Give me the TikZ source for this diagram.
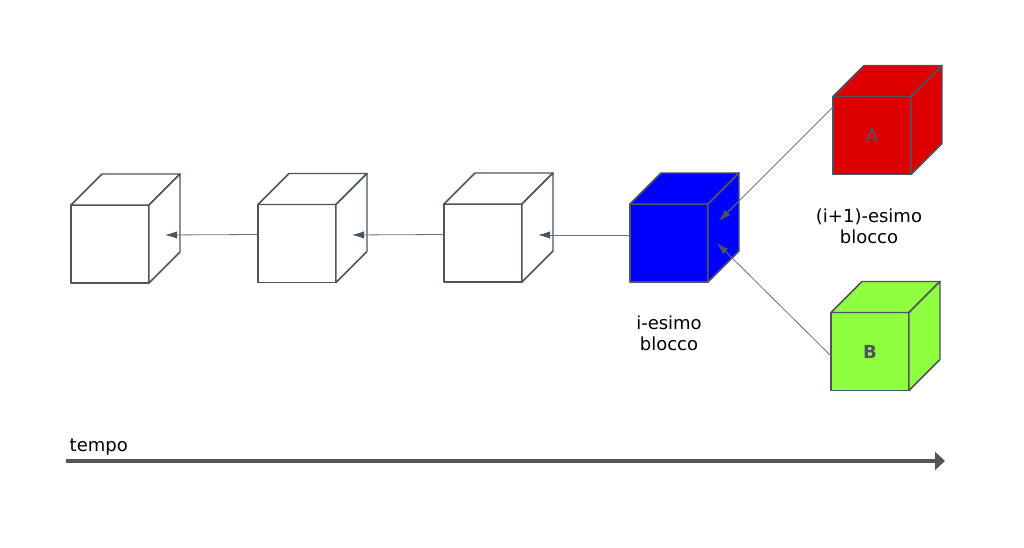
\documentclass[tikz,border=0pt]{standalone}
\usepackage{fontspec}
\setmainfont{DejaVu Sans}
\usetikzlibrary{arrows.meta,calc}
\definecolor{bordo}{HTML}{4D5461}
\definecolor{linea}{HTML}{707070}
\definecolor{asse}{HTML}{555555}
\definecolor{rosso}{HTML}{DD0000}
\definecolor{blu}{HTML}{0000FF}
\definecolor{verde}{HTML}{8FFF3F}
\tikzset{
 faccia/.style={draw=bordo,line width=1.1pt,minimum size=58.5pt,inner sep=0pt,outer sep=0pt,line join=round},
 spigolo/.style={draw=bordo,line width=1.1pt,line join=round},
 freccia/.style={draw=linea,line width=0.6pt,-{Latex[length=9pt,width=5.5pt,color=bordo,fill=bordo]}},
 etichetta/.style={align=center,font=\fontsize{13.5}{16}\selectfont}
}
\newcommand{\cubo}[4]{%
 \node[faccia,fill=#4] (#1) at (#2,#3) {};
 \filldraw[fill=#4,spigolo] (#1.north west) -- ++(31,-31) -- ++(78,0) -- (#1.north east) -- cycle;
 \filldraw[fill=#4,spigolo] (#1.north east) -- ++(31,-31) -- ++(0,78) -- (#1.south east) -- cycle;}

\begin{document}
\begin{tikzpicture}[x=0.75pt,y=-0.75pt]
 \useasboundingbox (0,0) rectangle (1024,548);
 \cubo{c1}{110}{244}{white}
 \cubo{c2}{297}{243.5}{white}
 \cubo{c3}{483}{243}{white}
 \cubo{ci}{669}{243}{blu}
 \cubo{ca}{872}{135.5}{rosso}
 \cubo{cb}{870}{351.5}{verde}
 \node[text=bordo,font=\fontsize{14}{16}\selectfont] (la) at (ca) {A};
 \node[text=bordo,font=\fontsize{13.5}{16}\selectfont\bfseries] (lb) at (cb) {B};
 \draw[freccia] ($(c2.west)+(0,-9)$) -- ($(c1.east)+(16,-9)$);
 \draw[freccia] ($(c3.west)+(0,-8.5)$) -- ($(c2.east)+(16,-8.5)$);
 \draw[freccia] ($(ci.west)+(0,-8)$) -- ($(c3.east)+(16,-8)$);
 \draw[freccia] ($(ca.west)+(0,-28.5)$) -- ($(ci.east)+(11,-22)$);
 \draw[freccia] ($(cb.west)+(0,4.5)$) -- ($(ci.east)+(9,0)$);
 \node[etichetta] (ti) at (669,333) {i-esimo\\blocco};
 \node[etichetta] (tn) at (869,226) {(i+1)-esimo\\blocco};
 \coordinate (t0) at (66,461);
 \coordinate (t1) at (945,461);
 \draw[asse,line width=2.3pt,-{Triangle[length=7.5pt,width=13.5pt]}] (t0) -- (t1);
 \node[etichetta,anchor=base west] (tempo) at (65,452) {tempo};
\end{tikzpicture}
\end{document}
